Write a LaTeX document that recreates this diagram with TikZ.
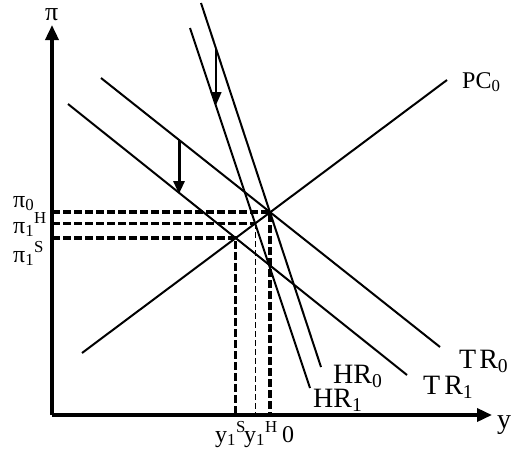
\documentclass[tikz,border=0pt]{standalone}
\usepackage{fontspec}
\setmainfont{Liberation Serif}
\usetikzlibrary{arrows.meta}

\begin{document}
\begin{tikzpicture}[x=10pt, y=10pt,
        curve/.style={line width=2pt},
        axis/.style={line width=3.5pt, -{Triangle[length=15pt,width=13pt]}},
        guide/.style={line width=3.5pt, dash pattern=on 8pt off 3pt},
        thinguide/.style={line width=1.3pt, dash pattern=on 6pt off 3pt},
        shiftarrow/.style={-{Triangle[length=13pt,width=11pt]}},
        lbl/.style={inner sep=0pt, anchor=base west},
        bigtxt/.style={font=\fontsize{28}{30}\selectfont},
        midtxt/.style={font=\fontsize{24}{26}\selectfont}]
    \useasboundingbox (-5.2,-3.6) rectangle (45.9,41.5);

    % Assi
    \coordinate (O) at (0,0);
    \coordinate (xend) at (44.0,0);
    \coordinate (yend) at (0,39.0);
    \draw[axis] (O) -- (xend);
    \draw[axis] (O) -- (yend);
    \node[lbl, bigtxt] (ylab) at (44.5,-1.3) {y};
    \node[lbl, font=\fontsize{26}{28}\selectfont] (pilab) at (-0.7,39.5) {π};

    % Rette: PC, TR, HR
    \coordinate (pc0a) at (3.0,6.2);    \coordinate (pc0b) at (39.5,33.5);
    \coordinate (tr0a) at (4.9,33.7);   \coordinate (tr0b) at (38.8,6.8);
    \coordinate (tr1a) at (1.6,31.1);   \coordinate (tr1b) at (35.5,4.0);
    \coordinate (hr0a) at (14.9,41.2);  \coordinate (hr0b) at (26.9,4.8);
    \coordinate (hr1a) at (13.8,38.7);  \coordinate (hr1b) at (25.8,2.7);
    \draw[curve] (pc0a) -- (pc0b);
    \draw[curve] (tr0a) -- (tr0b);
    \draw[curve] (tr1a) -- (tr1b);
    \draw[curve] (hr0a) -- (hr0b);
    \draw[curve] (hr1a) -- (hr1b);

    \node[lbl, midtxt] (pc0lab) at (41.0,32.7) {PC\textsubscript{0}};
    \node[lbl, bigtxt] (tr0lab) at (40.7,4.7) {T\kern3pt R\textsubscript{0}};
    \node[lbl, bigtxt] (tr1lab) at (37.1,2.1) {T\kern4pt R\textsubscript{1}};
    \node[lbl, bigtxt] (hr0lab) at (28.1,3.2) {HR\textsubscript{0}};
    \node[lbl, bigtxt] (hr1lab) at (26.1,0.8) {HR\textsubscript{1}};

    % Equilibri
    \coordinate (E0) at (intersection of pc0a--pc0b and tr0a--tr0b);
    \coordinate (EH) at (intersection of pc0a--pc0b and hr1a--hr1b);
    \coordinate (ES) at (intersection of pc0a--pc0b and tr1a--tr1b);
    \draw[guide] (O |- E0) -- (E0) -- (O -| E0);
    \draw[guide] (O |- EH) -- (EH);
    \draw[thinguide] (EH) -- (O -| EH);
    \draw[guide] (O |- ES) -- (ES) -- (O -| ES);

    % Spostamenti
    \coordinate (hrtop) at (16.4,36.7);
    \coordinate (hrtip) at (16.4,31.0);
    \draw[shiftarrow, line width=1.5pt] (hrtop) -- (hrtip);
    \coordinate (trtop) at (12.7,27.5);
    \coordinate (trtip) at (12.7,22.1);
    \draw[shiftarrow, line width=3pt] (trtop) -- (trtip);

    % Etichette sugli assi
    \node[lbl, midtxt] (pi0) at (-3.9,20.8) {π\textsubscript{0}};
    \node[lbl, midtxt] (pi1h) at (-3.9,18.2) {π\textsubscript{1}\textsuperscript{H}};
    \node[lbl, midtxt] (pi1s) at (-3.9,15.3) {π\textsubscript{1}\textsuperscript{S}};
    \node[lbl, midtxt] (y1s) at (16.3,-2.7) {y\textsubscript{1}\textsuperscript{S}};
    \node[lbl, midtxt] (y1h) at (19.2,-2.7) {y\textsubscript{1}\textsuperscript{H}};
    \node[lbl, midtxt] (zero) at (23.0,-2.7) {0};

\end{tikzpicture}
\end{document}
